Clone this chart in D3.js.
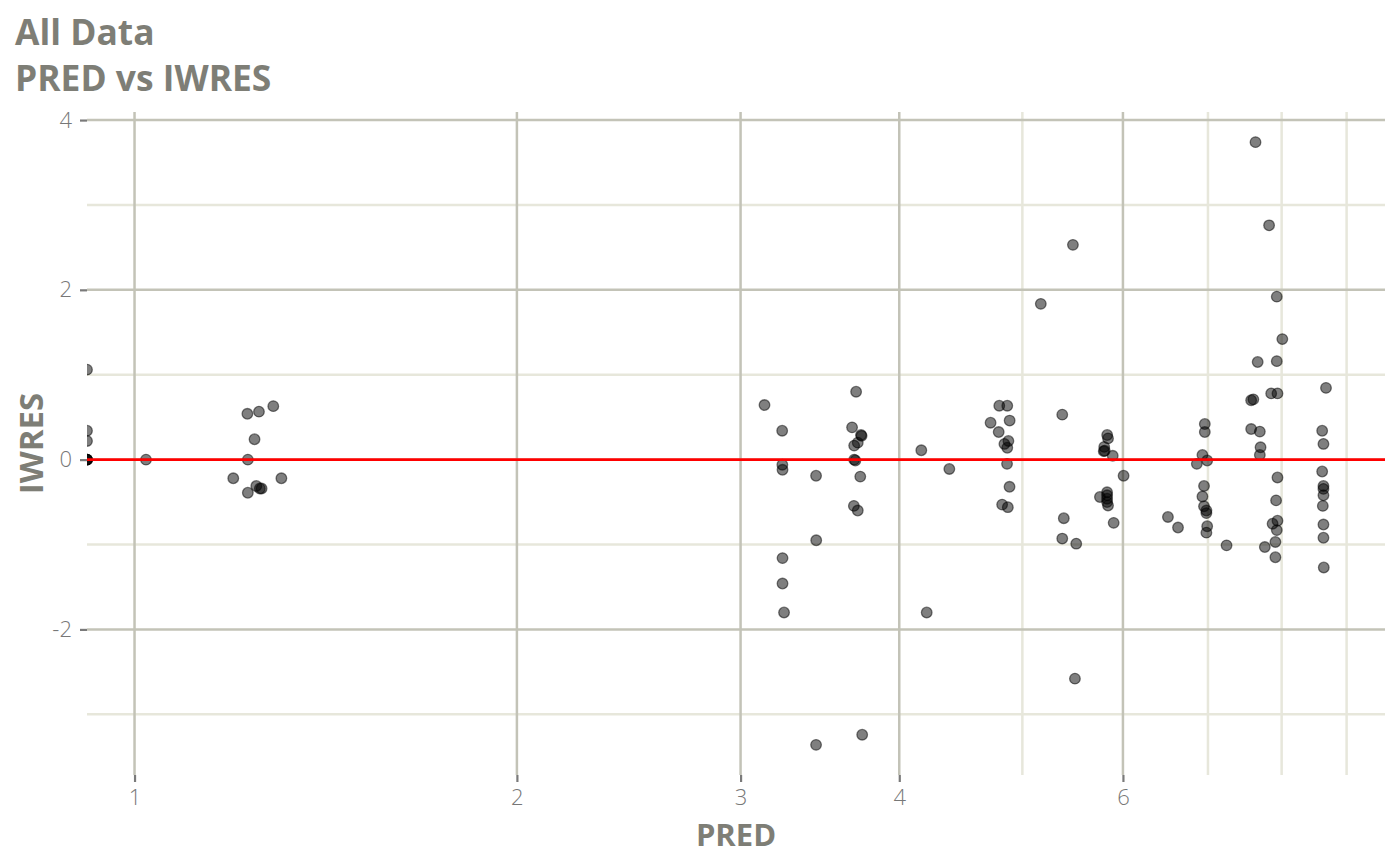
<!DOCTYPE html>
<html>
<head>
<meta charset="utf-8">
<script src="https://cdn.jsdelivr.net/npm/d3@7"></script>
<style>
  body { margin: 0; background: #fff; }
  svg { display: block; font-family: "Open Sans", "Noto Sans", sans-serif; }
</style>
</head>
<body>
<script>
// PRED (0 = non-positive, drawn at the left edge like ggplot's -Inf)
var pred = [
  0, 0, 0, 0, 0, 0, 0,
  1.021, 1.227, 1.253, 1.286, 1.243, 1.228, 1.196, 1.305, 1.228, 1.247, 1.255, 1.259,
  3.133, 3.235, 3.236, 3.237, 3.440, 3.441, 3.237, 3.237, 3.246, 3.440,
  3.699, 3.672, 3.732, 3.736, 3.710, 3.686, 3.686, 3.694, 3.727, 3.684, 3.710, 3.740,
  4.163, 4.380, 4.204,
  4.795, 4.865, 4.720, 4.886, 4.790, 4.875, 4.840, 4.865, 4.863, 4.885, 4.820, 4.870,
  5.17, 5.375, 5.39, 5.375, 5.513, 5.48, 5.50,
  5.831, 5.840, 5.800, 5.795, 5.805, 5.890, 6.007, 5.755, 5.83, 5.83, 5.83, 5.83, 5.84, 5.90,
  6.51, 6.63, 6.96, 6.96, 6.93, 6.86, 6.99, 6.95, 6.93, 6.95, 6.98, 6.98, 6.99, 6.98, 7.24,
  7.63, 7.82, 7.93, 8.01, 7.66, 7.93, 7.57, 7.60, 7.85, 7.94, 7.57, 7.69, 7.70, 7.69,
  7.94, 7.92, 7.94, 7.87, 7.93, 7.91, 7.76, 7.91,
  8.67, 8.61, 8.63, 8.61, 8.63, 8.63, 8.63, 8.62, 8.63, 8.63, 8.635
];

var iwres = [
  1.06, 0.34, 0.22, 0, 0, 0, 0,
  0.00, 0.54, 0.565, 0.63, 0.24, 0.00, -0.22, -0.22, -0.39, -0.31, -0.34, -0.34,
  0.643, 0.341, -0.06, -0.12, -0.19, -0.95, -1.16, -1.46, -1.80, -3.36,
  0.80, 0.38, 0.29, 0.28, 0.20, 0.165, 0.00, -0.01, -0.20, -0.545, -0.60, -3.24,
  0.11, -0.11, -1.80,
  0.635, 0.635, 0.435, 0.46, 0.325, 0.22, 0.185, 0.14, -0.05, -0.32, -0.53, -0.56,
  1.835, 0.53, -0.69, -0.93, -0.99, 2.53, -2.58,
  0.29, 0.25, 0.15, 0.10, 0.105, 0.045, -0.19, -0.44, -0.385, -0.42, -0.46, -0.50, -0.54, -0.745,
  -0.675, -0.80, 0.42, 0.325, 0.055, -0.05, -0.01, -0.31, -0.435, -0.55, -0.60, -0.63, -0.785, -0.86, -1.01,
  3.74, 2.76, 1.92, 1.42, 1.15, 1.16, 0.70, 0.71, 0.78, 0.78, 0.36, 0.33, 0.145, 0.055,
  -0.21, -0.48, -0.72, -0.755, -0.83, -0.97, -1.03, -1.15,
  0.845, 0.34, 0.185, -0.14, -0.31, -0.345, -0.42, -0.545, -0.765, -0.92, -1.27
];

var xBreaks = [1, 2, 3, 4, 6];
var xMinor = [5, 7, 8, 9];
var yBreaks = [-2, 0, 2, 4];
var yMinor = [-3, -1, 1, 3];

var titleLines = ["All Data", "PRED vs IWRES"];
var xLabel = "PRED";
var yLabel = "IWRES";

var W = 1400, H = 866;
var pLeft = 87, pRight = 1385, pTop = 112, pBottom = 775;

var points = pred.map(function(p, i) { return { pred: p, iwres: iwres[i] }; });

// ggplot-like 5% expansion, done in log space for x
var posPred = pred.filter(function(p) { return p > 0; });
var lx = d3.extent(posPred, function(p) { return Math.log(p); });
var padX = (lx[1] - lx[0]) * 0.05;
var ly = d3.extent(iwres);
var padY = (ly[1] - ly[0]) * 0.05;

var x = d3.scaleLog()
  .domain([Math.exp(lx[0] - padX), Math.exp(lx[1] + padX)])
  .range([pLeft, pRight]);

var y = d3.scaleLinear()
  .domain([ly[0] - padY, ly[1] + padY])
  .range([pBottom, pTop]);

var textCol = "#7e7e76";
var majorCol = "#c3c3b7";
var minorCol = "#e7e7db";

var svg = d3.select("body").append("svg")
  .attr("width", W)
  .attr("height", H);

svg.append("defs").append("clipPath")
  .attr("id", "panel")
  .append("rect")
    .attr("x", pLeft)
    .attr("y", pTop)
    .attr("width", pRight - pLeft)
    .attr("height", pBottom - pTop);

var grid = svg.append("g");

// minor grid
grid.selectAll(".ymin").data(yMinor).enter().append("line")
  .attr("x1", pLeft).attr("x2", pRight)
  .attr("y1", function(d) { return y(d); })
  .attr("y2", function(d) { return y(d); })
  .attr("stroke", minorCol).attr("stroke-width", 2.5);

grid.selectAll(".xmin").data(xMinor).enter().append("line")
  .attr("y1", pTop).attr("y2", pBottom)
  .attr("x1", function(d) { return x(d); })
  .attr("x2", function(d) { return x(d); })
  .attr("stroke", minorCol).attr("stroke-width", 2.5);

// major grid
grid.selectAll(".ymaj").data(yBreaks).enter().append("line")
  .attr("x1", pLeft).attr("x2", pRight)
  .attr("y1", function(d) { return y(d); })
  .attr("y2", function(d) { return y(d); })
  .attr("stroke", majorCol).attr("stroke-width", 2.5);

grid.selectAll(".xmaj").data(xBreaks).enter().append("line")
  .attr("y1", pTop).attr("y2", pBottom)
  .attr("x1", function(d) { return x(d); })
  .attr("x2", function(d) { return x(d); })
  .attr("stroke", majorCol).attr("stroke-width", 2.5);

// points
var panel = svg.append("g").attr("clip-path", "url(#panel)");

panel.selectAll("circle").data(points).enter().append("circle")
  .attr("cx", function(d) { return d.pred > 0 ? x(d.pred) : pLeft; })
  .attr("cy", function(d) { return y(d.iwres); })
  .attr("r", 5.3)
  .attr("fill", "#000")
  .attr("fill-opacity", 0.5)
  .attr("stroke", "#000")
  .attr("stroke-opacity", 0.5)
  .attr("stroke-width", 1.3);

// zero line
panel.append("line")
  .attr("x1", pLeft).attr("x2", pRight)
  .attr("y1", y(0)).attr("y2", y(0))
  .attr("stroke", "#ff0000")
  .attr("stroke-width", 2.6);

// axes
var plain = function(d) { return String(d); };

var xAxis = svg.append("g")
  .attr("transform", "translate(0," + pBottom + ")")
  .call(d3.axisBottom(x).tickValues(xBreaks).tickFormat(plain).tickSize(7).tickPadding(7));

var yAxis = svg.append("g")
  .attr("transform", "translate(" + pLeft + ",0)")
  .call(d3.axisLeft(y).tickValues(yBreaks).tickFormat(plain).tickSize(7).tickPadding(8));

[xAxis, yAxis].forEach(function(ax) {
  ax.select(".domain").remove();
  ax.selectAll(".tick line").attr("stroke", "#7a7a7a").attr("stroke-width", 2.2);
  ax.selectAll(".tick text")
    .attr("fill", "#777777")
    .attr("font-family", "'Open Sans', sans-serif")
    .attr("font-weight", 300)
    .attr("font-size", 22);
});

// axis titles
svg.append("text")
  .attr("x", (pLeft + pRight) / 2)
  .attr("y", 846)
  .attr("text-anchor", "middle")
  .attr("font-size", 31)
  .attr("font-weight", "bold")
  .attr("fill", textCol)
  .text(xLabel);

svg.append("text")
  .attr("transform", "translate(43," + ((pTop + pBottom) / 2) + ") rotate(-90)")
  .attr("text-anchor", "middle")
  .attr("font-size", 33)
  .attr("font-weight", "bold")
  .attr("fill", textCol)
  .text(yLabel);

// title
svg.selectAll(".title").data(titleLines).enter().append("text")
  .attr("x", 15)
  .attr("y", function(d, i) { return 45 + i * 46; })
  .attr("font-size", 35.4)
  .attr("font-weight", "bold")
  .attr("fill", textCol)
  .text(function(d) { return d; });
</script>
</body>
</html>
